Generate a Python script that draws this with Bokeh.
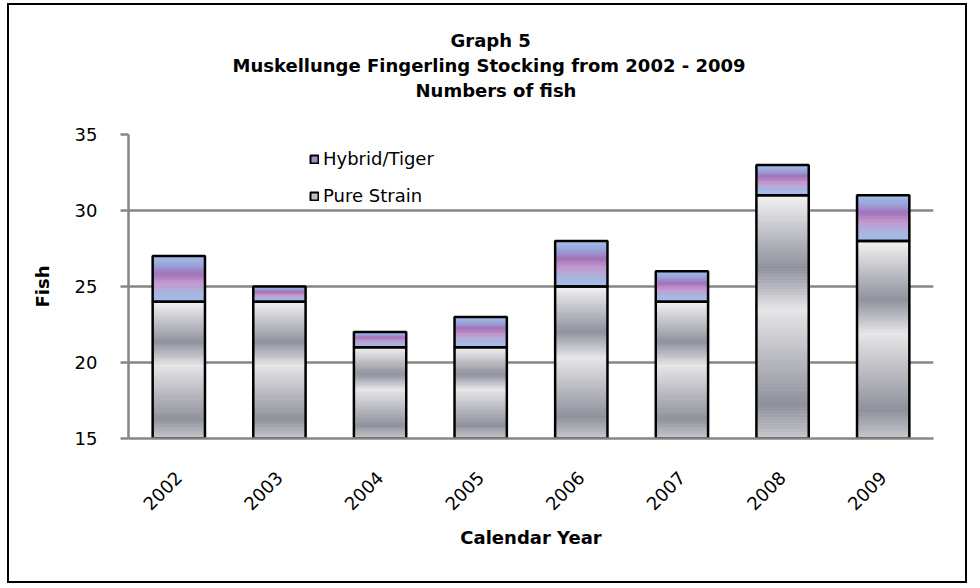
import numpy as np
from bokeh.plotting import figure
from bokeh.models import (ColumnDataSource, Range1d, FactorRange, Legend, LegendItem,
                          Title, FixedTicker)
from bokeh.embed import file_html
from bokeh.resources import INLINE

# ---------------- data ----------------
years = ["2002", "2003", "2004", "2005", "2006", "2007", "2008", "2009"]
pure_strain = [24, 24, 21, 21, 25, 24, 31, 28]
hybrid_tiger = [3, 1, 1, 2, 3, 2, 2, 3]
y_ticks = [15, 20, 25, 30, 35]
title_lines = ["Graph 5",
               "Muskellunge Fingerling Stocking from 2002 - 2009",
               "Numbers of fish"]
series_names = ["Hybrid/Tiger", "Pure Strain"]

# ---------------- style ----------------
FONT = "DejaVu Sans"
Y0, Y1 = 15, 35
BAR_W = 0.52
GRID = "#868686"
PURE_STOPS = [(0.0, "#f3f3f3"), (0.30, "#8f919d"), (0.47, "#e6e6e8"),
              (0.86, "#8f919b"), (1.0, "#c6c7cc")]
HYB_STOPS = [(0.0, "#a4bfe6"), (0.18, "#99a8dc"), (0.40, "#a172b9"),
             (0.58, "#c495cb"), (0.80, "#a9b4e0"), (1.0, "#a0bce6")]
TITLE_OFFSETS = [322, 104, 287]   # left offsets from the frame's left edge


def hex2rgb(h):
    h = h.lstrip("#")
    return [int(h[i:i + 2], 16) for i in (0, 2, 4)]


def interp(stops, f):
    for (f0, c0), (f1, c1) in zip(stops[:-1], stops[1:]):
        if f0 <= f <= f1:
            t = (f - f0) / (f1 - f0) if f1 > f0 else 0
            a, b = hex2rgb(c0), hex2rgb(c1)
            return "#%02x%02x%02x" % tuple(int(round(a[i] + (b[i] - a[i]) * t)) for i in range(3))
    return stops[-1][1]


def slices(bottoms, tops, stops, n):
    xs, bs, ts, cs = [], [], [], []
    for x, b, t in zip(years, bottoms, tops):
        b = max(b, Y0)
        h = t - b
        for k in range(n):
            f = (k + 0.5) / n
            ts.append(t - h * k / n)
            bs.append(t - h * (k + 1) / n)
            cs.append(interp(stops, f))
            xs.append(x)
    return ColumnDataSource(dict(x=xs, bottom=bs, top=ts, color=cs))


totals = [a + b for a, b in zip(pure_strain, hybrid_tiger)]

p = figure(x_range=FactorRange(*years, range_padding=0, factor_padding=0),
           y_range=Range1d(Y0, Y1),
           width=960, height=580, output_backend="svg", toolbar_location=None,
           min_border_left=119, min_border_right=36, min_border_top=129,
           min_border_bottom=147)
p.styles = {"border": "2px solid #000000", "margin-left": "7px", "margin-top": "3px"}
p.outline_line_color = None
p.background_fill_color = "white"
p.border_fill_color = "white"

# gradient slices
src_p = slices([0] * len(years), pure_strain, PURE_STOPS, 80)
src_h = slices(pure_strain, totals, HYB_STOPS, 24)
p.vbar(x="x", bottom="bottom", top="top", width=BAR_W, source=src_p,
       fill_color="color", line_color="color", line_width=0.8)
p.vbar(x="x", bottom="bottom", top="top", width=BAR_W, source=src_h,
       fill_color="color", line_color="color", line_width=0.8)

# outlines
p.vbar(x=years, bottom=[0] * len(years), top=pure_strain, width=BAR_W,
       fill_color=None, line_color="black", line_width=2.5)
p.vbar(x=years, bottom=pure_strain, top=totals, width=BAR_W,
       fill_color=None, line_color="black", line_width=2.5)

# legend proxies (drawn below the visible range, only their legend swatches show)
r_h = p.vbar(x=years[:1], bottom=[0], top=[1], width=BAR_W,
             fill_color="#a98bc6", line_color="black", line_width=2)
r_p = p.vbar(x=years[:1], bottom=[0], top=[1], width=BAR_W,
             fill_color="#bfc0c6", line_color="black", line_width=2)
legend = Legend(items=[LegendItem(label=series_names[0], renderers=[r_h]),
                       LegendItem(label=series_names[1], renderers=[r_p])],
                location=(181, 232), orientation="vertical",
                glyph_width=10, glyph_height=10, label_standoff=4, spacing=16,
                padding=0, margin=0, border_line_color=None, background_fill_alpha=0,
                label_text_font=FONT, label_text_font_size="18px", label_height=20,
                label_text_color="black")
p.add_layout(legend)

# axes
p.xgrid.visible = False
p.ygrid.grid_line_color = GRID
p.ygrid.grid_line_width = 2.5
p.yaxis.ticker = FixedTicker(ticks=y_ticks)
for ax in (p.xaxis[0], p.yaxis[0]):
    ax.axis_line_color = GRID
    ax.axis_line_width = 2.5
    ax.major_label_text_font = FONT
    ax.major_label_text_font_size = "18px"
    ax.major_label_text_color = "black"
    ax.axis_label_text_font = FONT
    ax.axis_label_text_font_style = "bold"
    ax.axis_label_text_font_size = "18px"
    ax.axis_label_text_color = "black"
    ax.minor_tick_line_color = None

p.yaxis.axis_label = "Fish"
p.yaxis.major_tick_line_color = GRID
p.yaxis.major_tick_line_width = 2.5
p.yaxis.major_tick_out = 8
p.yaxis.major_tick_in = 0
p.yaxis.major_label_standoff = 23
p.yaxis.axis_label_standoff = 19

p.xaxis.axis_label = "Calendar Year"
p.xaxis.major_tick_line_color = None
p.xaxis.major_tick_out = 0
p.xaxis.major_tick_in = 0
p.xaxis.major_label_orientation = np.pi / 4
p.xaxis.major_label_standoff = 36
p.xaxis.axis_label_standoff = 8

# title lines: stacked above the frame (innermost added first)
p.add_layout(Title(text=" ", text_font_size="10px", standoff=19), "above")
for txt, off in reversed(list(zip(title_lines, TITLE_OFFSETS))):
    p.add_layout(Title(text=txt, align="left", offset=off, vertical_align="middle",
                       standoff=2, text_font=FONT, text_font_style="bold",
                       text_font_size="18px", text_color="black"), "above")

open("out.html", "w").write(file_html(p, INLINE))
